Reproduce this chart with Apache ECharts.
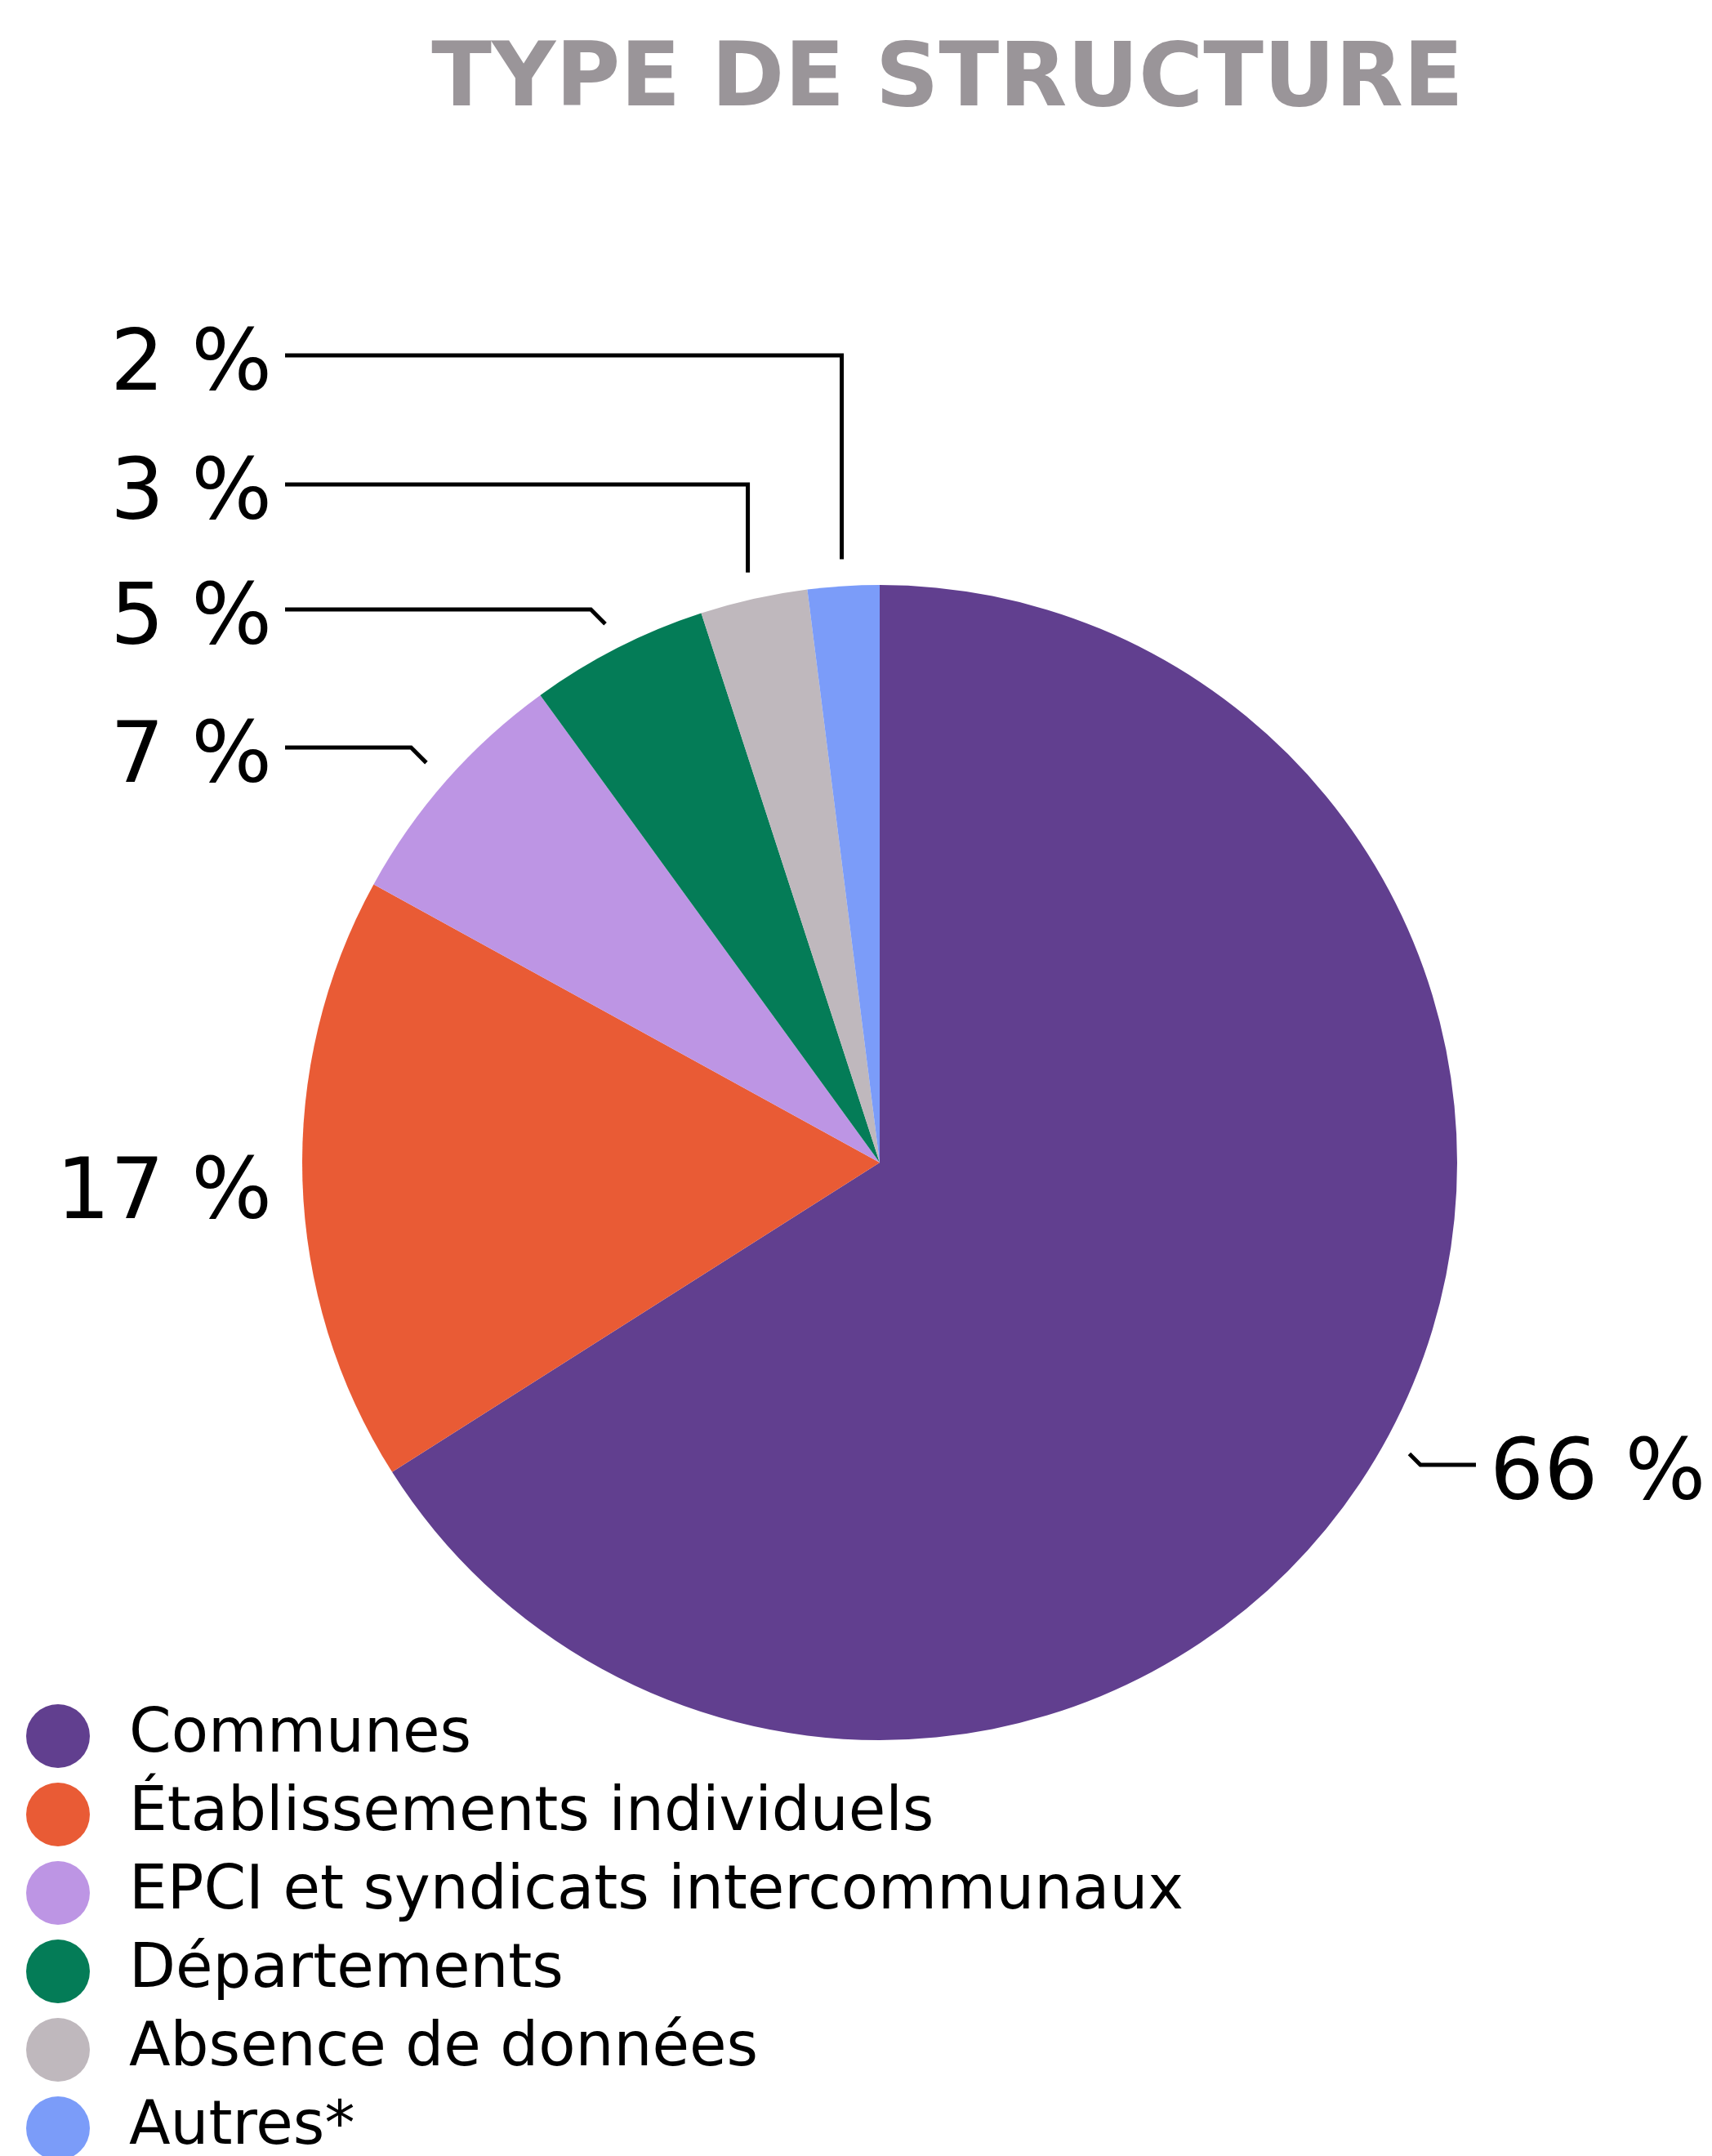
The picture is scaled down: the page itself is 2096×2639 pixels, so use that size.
<!DOCTYPE html>
<html><head><meta charset="utf-8">
<script src="https://cdn.jsdelivr.net/npm/echarts@6/dist/echarts.min.js"></script>
<style>html,body{margin:0;padding:0;background:#fff}#c{width:2096px;height:2639px}</style>
</head><body><div id="c"></div>
<script>
// ---- data ----
const categories = ['Communes', 'Établissements individuels', 'EPCI et syndicats intercommunaux', 'Départements', 'Absence de données', 'Autres*'];
const values = [66, 17, 7, 5, 3, 2];
const colors = ['#613f8f', '#e95b35', '#bd95e4', '#047c57', '#bfb8bd', '#7b9cf9'];
const titleText = 'TYPE DE STRUCTURE';

// ---- layout (not data) ----
const CX = 1077, CY = 1423, R = 707;
const labelCenterY = [1808, 1464, 930, 761, 608, 450];
const LEFT_LABEL_X = 333, RIGHT_LABEL_X = 1824;
const LINE_LEFT_END = 349, LINE_RIGHT_END = 1807;
const LINE_GAP = 33;
const FONT = '"DejaVu Sans", sans-serif';

const total = values.reduce((a, b) => a + b, 0);
const midAngles = [];
{ let cum = 0; values.forEach(v => { midAngles.push((cum + v / 2) / total * Math.PI * 2); cum += v; }); }

const chart = echarts.init(document.getElementById('c'), null, { renderer: 'canvas' });
chart.setOption({
  animation: false,
  backgroundColor: '#ffffff',
  graphic: [{
    type: 'text', x: 1160, y: 101,
    style: { text: titleText, fill: '#9a9599', font: 'bold 108px ' + FONT, textAlign: 'center', textVerticalAlign: 'middle' }
  }],
  legend: {
    orient: 'vertical', left: 32, top: 2086, height: 800, padding: 0,
    icon: 'circle', itemWidth: 78, itemHeight: 78, itemGap: 18,
    textStyle: { fontSize: 74, fontFamily: FONT, color: '#000', padding: [4, 0, 0, 43] },
    data: categories
  },
  series: [{
    type: 'pie',
    center: [CX, CY], radius: [0, R],
    startAngle: 90, clockwise: true,
    avoidLabelOverlap: false,
    itemStyle: { borderWidth: 0 },
    emphasis: { disabled: true },
    label: {
      show: true, position: 'outside', formatter: p => p.value + ' %',
      fontSize: 104, fontFamily: FONT, color: '#000'
    },
    labelLine: { show: true, lineStyle: { color: '#000', width: 5 } },
    labelLayout: function (p) {
      const i = p.dataIndex;
      const right = i === 0;
      const ty = labelCenterY[i];
      const out = { x: right ? RIGHT_LABEL_X : LEFT_LABEL_X, y: ty, align: right ? 'left' : 'right', verticalAlign: 'middle' };
      if (i !== 1) {
        const a = midAngles[i];
        const rr = R + LINE_GAP;
        const s = [CX + rr * Math.sin(a), CY - rr * Math.cos(a)];
        const ly = ty - 15;
        const h = ly - s[1];
        const b = Math.abs(h) < 60 ? [s[0] + (right ? 1 : -1) * Math.abs(h), ly] : [s[0], ly];
        out.labelLinePoints = [s, b, [right ? LINE_RIGHT_END : LINE_LEFT_END, ly]];
      }
      return out;
    },
    data: categories.map((n, i) => ({
      name: n, value: values[i], itemStyle: { color: colors[i] },
      labelLine: i === 1 ? { show: false } : undefined
    }))
  }]
});
</script></body></html>
